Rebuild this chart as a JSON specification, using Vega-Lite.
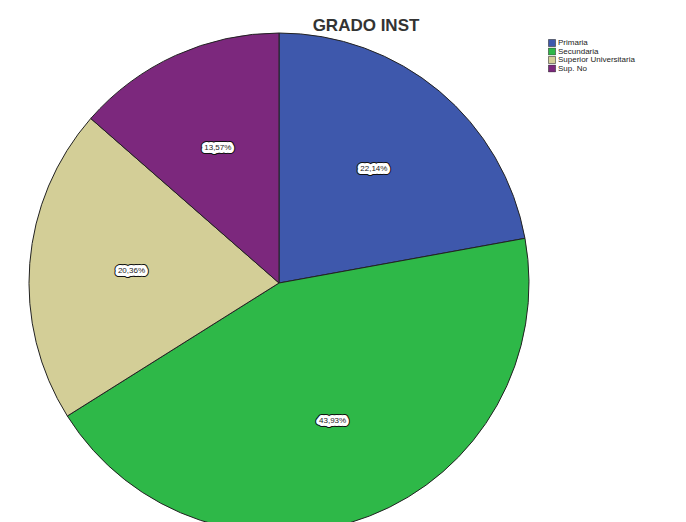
{
  "$schema": "https://vega.github.io/schema/vega-lite/v6.json",
  "width": 558,
  "height": 500,
  "autosize": "none",
  "padding": {"left": 0, "top": 33, "right": 128, "bottom": 0},
  "background": "white",
  "title": {"text": "GRADO INST", "fontSize": 17, "font": "Liberation Sans", "fontWeight": "bold", "color": "#333333", "anchor": "middle", "dx": 87, "offset": -4},
  "data": {"values": [
    {"orden": 1, "grado": "Primaria", "pct": 22.14, "label": "22,14%"},
    {"orden": 2, "grado": "Secundaria", "pct": 43.93, "label": "43,93%"},
    {"orden": 3, "grado": "Superior Universitaria", "pct": 20.36, "label": "20,36%"},
    {"orden": 4, "grado": "Sup. No", "pct": 13.57, "label": "13,57%"}
  ]},
  "encoding": {
    "theta": {"field": "pct", "type": "quantitative", "stack": true},
    "order": {"field": "orden", "type": "quantitative"},
    "color": {"field": "grado", "type": "nominal", "sort": null,
      "scale": {"domain": ["Primaria", "Secundaria", "Superior Universitaria", "Sup. No"], "range": ["#3E58AC", "#2EB848", "#D3CE97", "#7C287D"]},
      "legend": {"title": null, "orient": "none", "legendX": 548, "legendY": 6, "symbolType": "square", "symbolSize": 50, "symbolStrokeColor": "#333333", "symbolStrokeWidth": 0.6, "labelFontSize": 8, "labelFont": "Liberation Sans", "labelColor": "#222222", "rowPadding": 0.5, "clipHeight": 8, "symbolOffset": 0, "labelOffset": 2}}
  },
  "layer": [
    {"mark": {"type": "arc", "outerRadius": 250, "stroke": "#222222", "strokeWidth": 1}},
    {"mark": {"type": "text", "radius": 148, "fontSize": 8, "font": "Liberation Sans", "stroke": "#111111", "strokeWidth": 8, "strokeJoin": "round"},
     "encoding": {"text": {"field": "label"}, "color": {"value": "#111111"}}},
    {"mark": {"type": "text", "radius": 148, "fontSize": 8, "font": "Liberation Sans", "stroke": "white", "strokeWidth": 6, "strokeJoin": "round"},
     "encoding": {"text": {"field": "label"}, "color": {"value": "white"}}},
    {"mark": {"type": "text", "radius": 148, "fontSize": 8, "font": "Liberation Sans"},
     "encoding": {"text": {"field": "label"}, "color": {"value": "#222222"}}}
  ]
}
